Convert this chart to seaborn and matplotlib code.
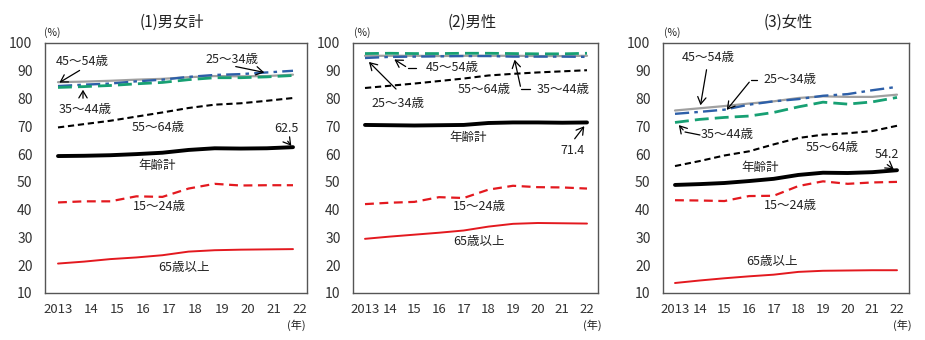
import numpy as np
import pandas as pd
import seaborn as sns
import matplotlib
matplotlib.use("Agg")
import matplotlib.pyplot as plt
from matplotlib.lines import Line2D

sns.set_style("white")
plt.rcParams['font.family'] = ['Noto Sans CJK JP', 'DejaVu Sans']

# ---------------- data ----------------
years = [2013, 2014, 2015, 2016, 2017, 2018, 2019, 2020, 2021, 2022]
year_labels = ["2013", "14", "15", "16", "17", "18", "19", "20", "21", "22"]
panel_titles = ["(1)男女計", "(2)男性", "(3)女性"]

# (1) 男女計
total_all   = [59.3, 59.4, 59.6, 60.0, 60.5, 61.5, 62.1, 62.0, 62.1, 62.5]
total_15_24 = [42.6, 43.0, 43.0, 44.8, 44.6, 47.6, 49.3, 48.7, 48.8, 48.8]
total_25_34 = [84.5, 85.0, 85.4, 86.2, 86.8, 87.8, 88.5, 88.8, 89.4, 90.0]
total_35_44 = [84.0, 84.3, 84.7, 85.3, 85.8, 86.8, 87.5, 87.5, 87.8, 88.3]
total_45_54 = [85.9, 86.1, 86.4, 86.8, 87.1, 87.7, 88.1, 88.0, 88.1, 88.6]
total_55_64 = [69.6, 70.8, 72.0, 73.5, 75.0, 76.6, 77.8, 78.3, 79.2, 80.2]
total_65    = [20.6, 21.3, 22.2, 22.8, 23.6, 24.9, 25.4, 25.6, 25.7, 25.8]

# (2) 男性
male_all   = [70.5, 70.4, 70.3, 70.4, 70.5, 71.2, 71.4, 71.4, 71.3, 71.4]
male_15_24 = [42.0, 42.5, 42.8, 44.5, 44.2, 47.2, 48.6, 48.1, 48.0, 47.6]
male_25_34 = [94.6, 95.0, 95.1, 95.2, 95.3, 95.3, 95.1, 95.1, 95.1, 95.0]
male_35_44 = [96.2, 96.3, 96.2, 96.2, 96.3, 96.3, 96.2, 96.1, 96.1, 96.3]
male_45_54 = [95.4, 95.4, 95.4, 95.3, 95.4, 95.4, 95.4, 95.3, 95.3, 95.4]
male_55_64 = [83.8, 84.6, 85.4, 86.3, 87.2, 88.3, 88.9, 89.4, 89.8, 90.2]
male_65    = [29.5, 30.3, 31.0, 31.7, 32.5, 33.9, 34.9, 35.2, 35.1, 35.0]

# (3) 女性
female_all   = [48.9, 49.2, 49.6, 50.3, 51.1, 52.5, 53.3, 53.2, 53.5, 54.2]
female_15_24 = [43.4, 43.3, 43.1, 44.9, 45.0, 48.5, 50.2, 49.3, 49.8, 50.0]
female_25_34 = [74.5, 75.2, 76.0, 77.8, 79.0, 79.8, 81.0, 81.6, 83.0, 84.2]
female_35_44 = [71.4, 72.5, 73.2, 73.7, 75.0, 77.0, 78.7, 78.0, 78.8, 80.4]
female_45_54 = [75.7, 76.5, 77.3, 78.2, 79.0, 80.2, 80.8, 80.6, 80.6, 81.4]
female_55_64 = [55.7, 57.5, 59.5, 61.0, 63.5, 65.8, 67.0, 67.5, 68.3, 70.2]
female_65    = [13.6, 14.5, 15.3, 16.0, 16.6, 17.6, 18.0, 18.1, 18.2, 18.2]

series_names = ["45～54歳", "25～34歳", "35～44歳", "55～64歳", "15～24歳", "65歳以上", "年齢計"]
panels_data = [
    [total_45_54, total_25_34, total_35_44, total_55_64, total_15_24, total_65, total_all],
    [male_45_54, male_25_34, male_35_44, male_55_64, male_15_24, male_65, male_all],
    [female_45_54, female_25_34, female_35_44, female_55_64, female_15_24, female_65, female_all],
]

# ---------------- styles ----------------
RED = "#e3191f"
GREEN = "#17a073"
BLUE = "#2d5fa8"
GRAY = "#a0a0a0"
styles = {
    "45～54歳": dict(color=GRAY, lw=1.6, ls="-"),
    "25～34歳": dict(color=BLUE, lw=1.7, ls=(0, (6, 2.2, 1.5, 2.2))),
    "35～44歳": dict(color=GREEN, lw=2.0, ls=(0, (5, 2.2))),
    "55～64歳": dict(color="black", lw=1.5, ls=(0, (3, 1.8))),
    "15～24歳": dict(color=RED, lw=1.6, ls=(0, (4, 2.5))),
    "65歳以上": dict(color=RED, lw=1.4, ls="-"),
    "年齢計": dict(color="black", lw=2.8, ls="-"),
}

W, H = 925, 340
fig = plt.figure(figsize=(W / 100, H / 100), dpi=100)

# pixel geometry of each axes: left, right, top, bottom, x of first point, x of last point
geom = [
    (45, 307, 43, 293, 58, 293),
    (353, 598, 43, 293, 365, 587),
    (663, 909, 43, 293, 675, 897),
]
tick_shift = [0.27, 0.0, 0.0]

axes = []
for i, (l, r, t, b, x0, x9) in enumerate(geom):
    ax = fig.add_axes([l / W, 1 - b / H, (r - l) / W, (b - t) / H])
    unit = (x9 - x0) / 9.0
    ax.set_xlim(-(x0 - l) / unit, 9 + (r - x9) / unit)
    ax.set_ylim(10, 100)
    xs = np.arange(len(years))
    df = pd.DataFrame({"x": xs})
    for name, vals in zip(series_names, panels_data[i]):
        st = styles[name]
        sns.lineplot(x=xs, y=vals, ax=ax, color=st["color"], linewidth=st["lw"],
                     linestyle=st["ls"])
    ax.set_xlabel("")
    ax.set_ylabel("")
    ticks = [0] + [k + tick_shift[i] for k in range(1, 10)]
    ax.set_xticks(ticks)
    ax.set_xticklabels(year_labels, fontsize=9.5,
                       family=['Liberation Sans Narrow', 'Noto Sans CJK JP', 'DejaVu Sans'])
    ax.set_yticks(range(10, 101, 10))
    ax.set_yticklabels([str(v) for v in range(10, 101, 10)], fontsize=10)
    ax.tick_params(axis='x', length=0, pad=7, colors="#333333")
    ax.tick_params(axis='y', length=3, direction='in', pad=9, colors="#333333")
    ax.tick_params(axis='y', color="#555555")
    for sp in ax.spines.values():
        sp.set_color("#555555")
        sp.set_linewidth(1.0)
    axes.append(ax)


def ftext(x, y, s, size=9, **kw):
    fig.text(x / W, 1 - y / H, s, ha='center', va='center', fontsize=size,
             color="#222222", **kw)


def farrow(tail, head):
    fig.add_artist(matplotlib.patches.FancyArrowPatch(
        (tail[0] / W, 1 - tail[1] / H), (head[0] / W, 1 - head[1] / H),
        transform=fig.transFigure, arrowstyle='->,head_length=5,head_width=3',
        mutation_scale=1, lw=0.9, color="black"))


def fline(p, q):
    fig.add_artist(Line2D([p[0] / W, q[0] / W], [1 - p[1] / H, 1 - q[1] / H],
                          transform=fig.transFigure, lw=0.9, color="black"))


# titles, units
for (cx, title) in zip([172, 472, 788], panel_titles):
    ftext(cx, 22, title, size=11)
for x in [52, 362, 672]:
    ftext(x, 33, "(%)", size=7.5)
for x in [296, 592, 902]:
    ftext(x, 325, "(年)", size=8)

# panel 1 annotations
ftext(82, 61, "45～54歳")
farrow((82, 69), (57, 84))
ftext(232, 59, "25～34歳")
farrow((233, 66), (267, 73))
ftext(85, 110, "35～44歳")
farrow((83, 101), (83, 87))
ftext(158, 127, "55～64歳")
ftext(286, 129, "62.5")
farrow((286, 139), (293, 148))
ftext(157, 165, "年齢計")
ftext(159, 207, "15～24歳")
ftext(184, 268, "65歳以上")

# panel 2 annotations
ftext(452, 68, "45～54歳")
fline((416, 68), (408, 68))
farrow((408, 68), (392, 58))
ftext(398, 103, "25～34歳")
farrow((398, 91), (367, 60))
ftext(484, 89, "55～64歳")
ftext(563, 89, "35～44歳")
fline((530, 89), (521, 89))
farrow((521, 89), (514, 57))
ftext(468, 137, "年齢計")
ftext(573, 151, "71.4")
farrow((573, 141), (586, 124))
ftext(479, 207, "15～24歳")
ftext(479, 242, "65歳以上")

# panel 3 annotations
ftext(708, 57, "45～54歳")
farrow((707, 67), (700, 108))
ftext(790, 80, "25～34歳")
fline((757, 80), (751, 80))
farrow((751, 80), (725, 112))
ftext(727, 135, "35～44歳")
fline((700, 135), (685, 132))
farrow((685, 132), (677, 123))
ftext(832, 147, "55～64歳")
ftext(887, 155, "54.2")
farrow((885, 163), (896, 171))
ftext(760, 167, "年齢計")
ftext(790, 206, "15～24歳")
ftext(772, 262, "65歳以上")

fig.savefig("out.png", dpi=100, facecolor="white")
